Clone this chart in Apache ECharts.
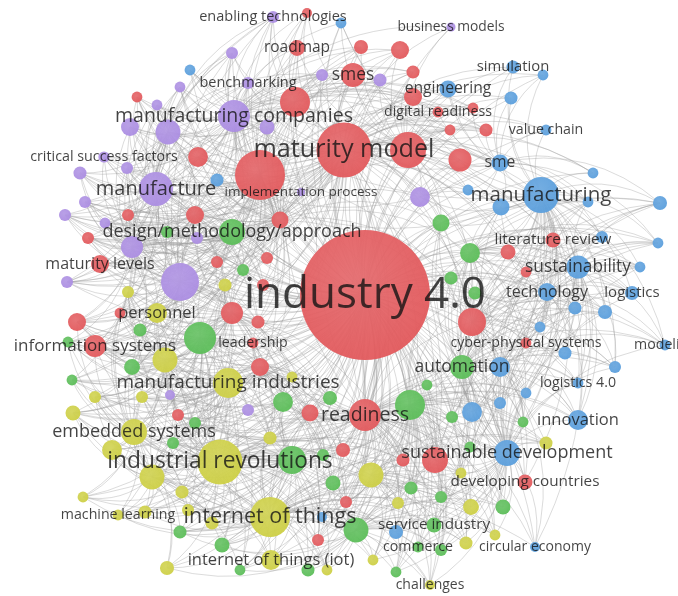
<!DOCTYPE html>
<html><head><meta charset="utf-8">
<script src="https://cdn.jsdelivr.net/npm/echarts@6/dist/echarts.min.js"></script>
<style>html,body{margin:0;padding:0;background:#fff}#c{width:678px;height:596px}</style>
</head><body><div id="c"></div>
<script>
// VOSviewer-style keyword co-occurrence map: [id, label, mapX, mapY, weight]
const redTerms = [
 ['r1','industry 4.0',365,295,1878],['r2','maturity model',344,150,336],['r3','',260,175,278],
 ['r4','readiness',365,415,114],['r5','',408,150,144],['r6','',295,102,100],['r7','smes',353,75,64],
 ['r8','',460,160,59],['r9','',472,322,87],['r10','',435,460,75],['r11','roadmap',297,48,28],
 ['r12','',307,13,11],['r13','',361,47,22],['r14','',400,50,36],['r15','',413,72,19],
 ['r16','digital readiness',438,112,13],['r17','',413,97,36],['r18','',473,108,13],['r19','',450,130,13],
 ['r20','',486,130,19],['r21','',198,157,44],['r22','',137,97,13],['r23','',128,215,16],['r24','',195,215,36],
 ['r25','',280,220,32],['r26','',88,238,16],['r27','maturity levels',100,264,36],['r28','',217,262,16],
 ['r29','',267,258,16],['r30','',263,285,16],['r31','',232,313,54],['r32','',258,322,19],['r33','',120,313,13],
 ['r34','',77,322,36],['r35','information systems',95,346,54],['r36','leadership',253,343,13],['r37','',260,367,36],
 ['r38','',178,415,16],['r39','',310,413,32],['r40','',343,450,22],['r41','',403,460,19],['r42','',346,502,16],
 ['r43','',318,540,16],['r44','literature review',553,240,25],['r45','',508,252,25],['r46','',526,272,13],
 ['r47','cyber-physical systems',526,343,13],['r48','developing countries',525,482,25]
];
const purpleTerms = [
 ['p1','manufacturing companies',234,116,114],['p2','manufacture',156,189,128],['p3','',180,282,160],
 ['p4','',168,132,69],['p5','',130,127,36],['p6','',267,127,25],['p7','enabling technologies',273,17,16],
 ['p8','',232,53,16],['p9','',322,75,16],['p10','',180,87,13],['p11','benchmarking',248,83,16],['p12','',157,105,13],
 ['p13','critical success factors',104,157,14],['p14','',127,168,16],['p15','',80,173,19],['p16','',85,202,16],
 ['p17','',65,215,16],['p18','',105,223,13],['p19','',132,247,54],['p20','',197,238,16],['p21','',67,282,16],
 ['p22','',420,197,44],['p23','',380,80,19],['p24','business models',451,27,9],['p25','implementation process',301,192,7],
 ['p26','',170,395,11],['p27','',248,410,16]
];
const blueTerms = [
 ['b1','manufacturing',541,195,144],['b2','',341,23,13],['b3','engineering',448,89,32],['b4','simulation',513,67,19],
 ['b5','',543,75,13],['b6','',511,98,19],['b7','value chain',546,130,13],['b8','sme',500,163,32],['b9','',593,173,13],
 ['b10','',468,190,13],['b11','',217,180,19],['b12','',190,70,13],['b13','',501,207,32],['b14','',588,202,13],
 ['b15','',660,203,22],['b16','',602,237,16],['b17','',658,243,13],['b18','sustainability',578,267,59],
 ['b19','',640,267,13],['b20','technology',547,292,36],['b21','logistics',632,293,22],['b22','',575,308,19],
 ['b23','',605,312,22],['b24','',540,327,13],['b25','',565,353,19],['b26','modeling',665,345,13],['b27','',500,367,44],
 ['b28','',615,367,16],['b29','logistics 4.0',578,383,13],['b30','',526,393,13],['b31','',500,403,16],['b32','',472,412,44],
 ['b33','innovation',578,420,44],['b34','sustainable development',507,453,75],['b35','',396,532,22],
 ['b36','circular economy',535,547,11],['b37','',322,517,11]
];
const greenTerms = [
 ['g1','design/methodology/approach',232,232,75],['g2','',167,232,16],['g3','',243,270,16],['g4','',140,330,19],
 ['g5','',200,338,114],['g6','',68,342,13],['g7','',132,367,28],['g8','',72,380,13],['g9','',283,402,44],
 ['g10','',330,398,22],['g11','',195,423,16],['g12','',173,443,16],['g13','',292,460,87],['g14','',323,455,16],
 ['g15','',333,483,25],['g16','',180,532,19],['g17','',222,545,25],['g18','',240,570,13],['g19','',308,570,19],
 ['g20','',441,223,32],['g21','',470,253,44],['g22','',451,278,19],['g23','',475,293,19],['g24','automation',462,367,64],
 ['g25','',427,385,13],['g26','',410,405,100],['g27','',452,417,16],['g28','',523,422,13],['g29','',470,447,13],
 ['g30','',411,488,19],['g31','',441,497,16],['g32','',503,507,25],['g33','',356,530,69],['g34','service industry',434,525,25],
 ['g35','commerce',418,547,13],['g36','',441,550,16],['g37','',396,572,13]
];
const yellowTerms = [
 ['y1','industrial revolutions',220,462,225],['y2','internet of things',270,517,178],['y3','manufacturing industries',228,383,100],
 ['y4','embedded systems',134,432,75],['y5','',165,360,69],['y6','personnel',157,313,44],['y7','',225,285,19],
 ['y8','',128,292,16],['y9','',292,377,13],['y10','',95,397,16],['y11','',142,397,16],['y12','',73,413,25],
 ['y13','',270,438,19],['y14','',112,450,44],['y15','',152,477,69],['y16','',182,492,19],['y17','',83,497,13],
 ['y18','machine learning',118,515,13],['y19','',145,512,19],['y20','',188,510,16],['y21','',212,523,19],
 ['y22','internet of things (iot)',271,560,44],['y23','',167,568,22],['y24','',327,570,13],['y25','',371,475,69],
 ['y26','',461,473,13],['y27','',546,443,19],['y28','',398,503,16],['y29','',471,507,28],['y30','',495,535,13],
 ['y31','',466,543,19],['y32','',373,560,13],['y33','challenges',430,585,11]
];
// co-occurrence links: source id -> list of target ids (ranges abbreviated a1-9)
const linkLists = [
 ['r1','r2-48 p1-27 b1-37 g1-37 y1-33'],
 ['r2','r3-48 p1-25 b1-14 b18 b20 g1 g5 g20 g21 y3 y6'],
 ['r3','r4-35 p1-21 b11 g1-8 y5-8'],
 ['y1','y2-33 g5-19 r4 r31 r35 r37-43 p3 p26 p27 b34 b37'],
 ['y2','y3-33 g9-19 g30-37 r4 r39-43 b34-37'],
 ['b1','b2-37 r4 r5 r8 r9 r44-48 g20-24 g28 p22'],
 ['p1','p2-27 r5-7 r11-24 b2 b11 b12 g1 g2'],
 ['p2','p3-21 r21-35 b11 g1-4 y6-8'],
 ['p3','p4-21 r23-37 g1-7 y5-12'],
 ['g5','g1-19 y3-16 r31-39 p3 p19 p26'],
 ['y3','y4-21 g4-14 r31-39 p26 p27'],
 ['r4','r5-10 r31-43 g9-37 y9 y13 y25-33 b27-37'],
 ['b34','b18-37 g20-37 r9 r10 r44-48 y25-33'],
 ['g24','g20-37 b13-34 r9 r47'],
 ['g26','g9-37 b30-37 y25-33 r39-43'],
 ['r5','r6-20 p22 p23 p24 b2-10 g20'],
 ['b18','b13-33 r44-46'],
 ['g1','g2-8 r23-30 p16-21'],
 ['r31','r23-43 g1-12 y3-13 p3 p19 p20'],
 ['g13','g9-19 y1-24 r37-43'],
 ['g33','g13-19 g30-37 y22-33 r40-43 b35 b37'],
 ['r9','r44-48 g20-29 b13-33'],
 ['b20','b13-33 r44-47 g21-23'],
 ['p4','p5-21 r21-26'],
 ['r6','r7-24 p4-12 b12'],
 ['y5','y3-21 g4-8 r33-35'],
 ['y25','y26-33 g26-37 r40-43 b34 b35'],
 ['b8','b2-17 r5 r8 r16-20 g20'],
 ['r24','r21-35 p14-21 g1-3'],
 ['y15','y4-24 g11-18'],
 ['r25','r2-37 p1-22 g1-3 g20-22 b11'],
 ['p19','p2-21 r23-35 g1-8 y6-8'],
 ['g21','g20-29 b1 b13-25 r44-47'],
 ['r37','r31-43 g9-14 y1-13'],
 ['r39','r4 r37-43 g9-15 y9 y13 y25'],
 ['b27','b13-37 g24-29'],
 ['g9','g5-15 y3 y9 y13 r36-39'],
 ['y4','y5-24 g6-8 r33-35'],
 ['p22','b1 b8 b10 b13 r5 r8 g20 g21']
];

const clusterColor = {r:'#e2595c', p:'#ab8de2', b:'#5a9edc', g:'#5bbd58', y:'#cdcf45'};
function lighten(hex, f){
  const n = parseInt(hex.slice(1),16);
  const c = [(n>>16)&255,(n>>8)&255,n&255].map(v=>Math.round(v+(255-v)*f));
  return 'rgb('+c.join(',')+')';
}
const sizeScale = w => 3*Math.sqrt(w);
const fontScale = w => 11.5 + 0.25*sizeScale(w);

const allTerms = [].concat(redTerms, purpleTerms, blueTerms, greenTerms, yellowTerms);
const nodes = allTerms.slice().sort((a,b)=>b[4]-a[4]).map(t=>{
  const base = clusterColor[t[0][0]];
  return {
    name: t[0], value: [t[2], t[3]], symbolSize: sizeScale(t[4]),
    itemStyle: {color: {type:'radial', x:0.42, y:0.38, r:0.65,
      colorStops:[{offset:0,color:lighten(base,0.12)},{offset:1,color:base}]}, opacity:0.95}
  };
});
function expand(spec){
  const out=[];
  spec.split(/\s+/).forEach(tok=>{
    const m = tok.match(/^([a-z])(\d+)(?:-(\d+))?$/);
    const a=+m[2], b=m[3]?+m[3]:a;
    for(let i=a;i<=b;i++) out.push(m[1]+i);
  });
  return out;
}
const ids = new Set(allTerms.map(t=>t[0]));
const seen = new Set();
const links = [];
linkLists.forEach(([s,spec])=>{
  expand(spec).forEach(t=>{
    if(t===s || !ids.has(t)) return;
    const k = s<t ? s+'|'+t : t+'|'+s;
    if(seen.has(k)) return; seen.add(k);
    links.push({source:s, target:t});
  });
});
const labelData = allTerms.filter(t=>t[1]).sort((a,b)=>b[4]-a[4]).map(t=>({
  name: t[1], value:[t[2], t[3]], label:{fontSize: Math.round(fontScale(t[4])*10)/10}
}));

const chart = echarts.init(document.getElementById('c'), null, {renderer:'canvas'});
chart.setOption({
  animation:false,
  grid:{left:0,right:0,top:0,bottom:0},
  xAxis:{type:'value',min:0,max:678,show:false},
  yAxis:{type:'value',min:0,max:596,inverse:true,show:false},
  series:[
    {type:'graph', coordinateSystem:'cartesian2d', layout:'none', data:nodes, links:links,
     lineStyle:{color:'#9a9a9a', opacity:0.36, width:1, curveness:0.25},
     label:{show:false}, emphasis:{disabled:true}, silent:true, z:2},
    {type:'scatter', data:labelData, symbolSize:1, itemStyle:{color:'rgba(0,0,0,0)'},
     label:{show:true, position:'inside', color:'#141414', fontFamily:'Open Sans', formatter:p=>p.name},
     emphasis:{disabled:true}, silent:true, z:5}
  ]
});
</script></body></html>
